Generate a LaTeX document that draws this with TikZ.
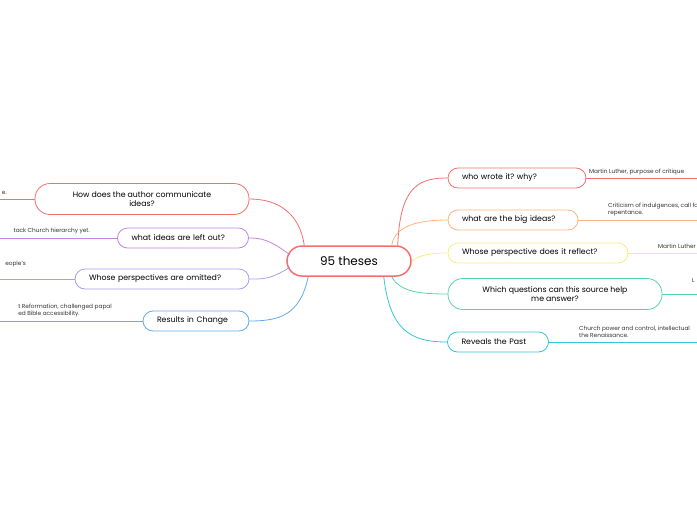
\documentclass[tikz,border=0pt]{standalone}
\usepackage{fontspec}
\setmainfont{Poppins}
\frenchspacing
\definecolor{cred}{HTML}{F46E6E}
\definecolor{corange}{HTML}{FFB27F}
\definecolor{cyellow}{HTML}{F7EC80}
\definecolor{cgreen}{HTML}{55D6A8}
\definecolor{ccyan}{HTML}{35C6D6}
\definecolor{cpurple}{HTML}{C285E2}
\definecolor{clav}{HTML}{A99CF2}
\definecolor{cblue}{HTML}{60ABEC}
\tikzset{
  topic/.style={draw,rounded corners=10pt,line width=0.8pt,font=\fontsize{7.8}{9.5}\selectfont,
    align=center,inner sep=0pt,minimum height=20pt},
  single/.style={topic,align=left,inner xsep=14pt,text width=#1-28pt,minimum width=#1},
  note/.style={font=\fontsize{5.8}{7}\selectfont,align=left,inner sep=0pt,text=black!80},
  link/.style={line width=0.8pt}
}
\begin{document}
\begin{tikzpicture}[x=1pt,y=-1pt]
  \useasboundingbox (0,0) rectangle (697,520);
  \clip (0,0) rectangle (697,520);

  % centre
  \node[topic,draw=cred,line width=1.5pt,minimum width=124pt,minimum height=30pt,
    rounded corners=15pt,font=\fontsize{12}{14}\selectfont] (root) at (349,261) {95 theses};

  % right side
  \node[single=138pt,draw=cred] (who) at (517,178) {who wrote it? why?};
  \node[single=130pt,draw=corange] (big) at (513,220) {what are the big ideas?};
  \node[single=180pt,draw=cyellow] (persp) at (538,253) {Whose perspective does it reflect?};
  \node[topic,draw=cgreen,minimum width=214pt,minimum height=31pt,rounded corners=15pt] (quest) at (555,294)
    {Which questions can this source help\\me answer?};
  \node[single=101pt,draw=ccyan] (past) at (498,342) {Reveals the Past};

  % left side
  \node[topic,draw=cred,minimum width=214pt,minimum height=31pt,rounded corners=15pt] (how) at (142,199)
    {How does the author communicate\\ideas?};
  \node[single=131pt,draw=cpurple] (left) at (183,238) {what ideas are left out?};
  \node[single=174pt,draw=clav] (omit) at (162,279) {Whose perspectives are omitted?};
  \node[single=106pt,draw=cblue] (change) at (196,321) {Results in Change};

  % free ends
  \coordinate (whoE) at (697,178);
  \coordinate (bigE) at (697,220);
  \coordinate (perspE) at (697,253);
  \coordinate (questE) at (697,294);
  \coordinate (pastE) at (697,342);
  \coordinate (howE) at (0,199);
  \coordinate (leftE) at (0,238);
  \coordinate (omitE) at (0,279);
  \coordinate (changeE) at (0,321);

  % connectors from root
  \draw[link,cred] (root.north east) ++(-14,0) .. controls (400,185) and (420,178) .. (who.west);
  \draw[link,corange] (root.north east) ++(-20,0) .. controls (395,225) and (420,220) .. (big.west);
  \draw[link,cyellow] (root.east) .. controls (420,255) and (430,253) .. (persp.west);
  \draw[link,cgreen] (root.south east) ++(-20,0) .. controls (400,292) and (420,294) .. (quest.west);
  \draw[link,ccyan] (root.south east) ++(-28,0) .. controls (390,330) and (410,342) .. (past.west);
  \draw[link,cred] (root.north west) ++(18,0) .. controls (300,215) and (280,199) .. (how.east);
  \draw[link,cpurple] (root.west) ++(4,-6) .. controls (270,240) and (262,238) .. (left.east);
  \draw[link,clav] (root.west) ++(4,6) .. controls (270,280) and (262,279) .. (omit.east);
  \draw[link,cblue] (root.south west) ++(22,0) .. controls (300,315) and (280,321) .. (change.east);

  % leaf lines
  \draw[link,cred] (who.east) -- (whoE);
  \draw[link,corange] (big.east) -- (bigE);
  \draw[link,cyellow] (persp.east) -- (perspE);
  \draw[link,cgreen] (quest.east) -- (questE);
  \draw[link,ccyan] (past.east) -- (pastE);
  \draw[link,cred] (how.west) -- (howE);
  \draw[link,cpurple] (left.west) -- (leftE);
  \draw[link,clav] (omit.west) -- (omitE);
  \draw[link,cblue] (change.west) -- (changeE);

  % leaf texts
  \node[note,anchor=south west] (whoT) at (589,175) {Martin Luther, purpose of critique};
  \node[note,anchor=south west] (bigT) at (608,216) {Criticism of indulgences, call for\\repentance.};
  \node[note,anchor=south west] (perspT) at (658,249) {Martin Luther};
  \node[note,anchor=south west] (questT) at (692,283) {L};
  \node[note,anchor=south west] (pastT) at (579,338) {Church power and control, intellectual\\the Renaissance.};
  \node[note,anchor=south east] (howT) at (7,195) {e.};
  \node[note,anchor=south east] (leftT) at (90,234) {tack Church hierarchy yet.};
  \node[note,anchor=south east] (omitT) at (26,267) {eople's};
  \node[note,anchor=south east] (changeT) at (112,317)
    {t Reformation, challenged papal\\ed Bible accessibility.};
\end{tikzpicture}
\end{document}
